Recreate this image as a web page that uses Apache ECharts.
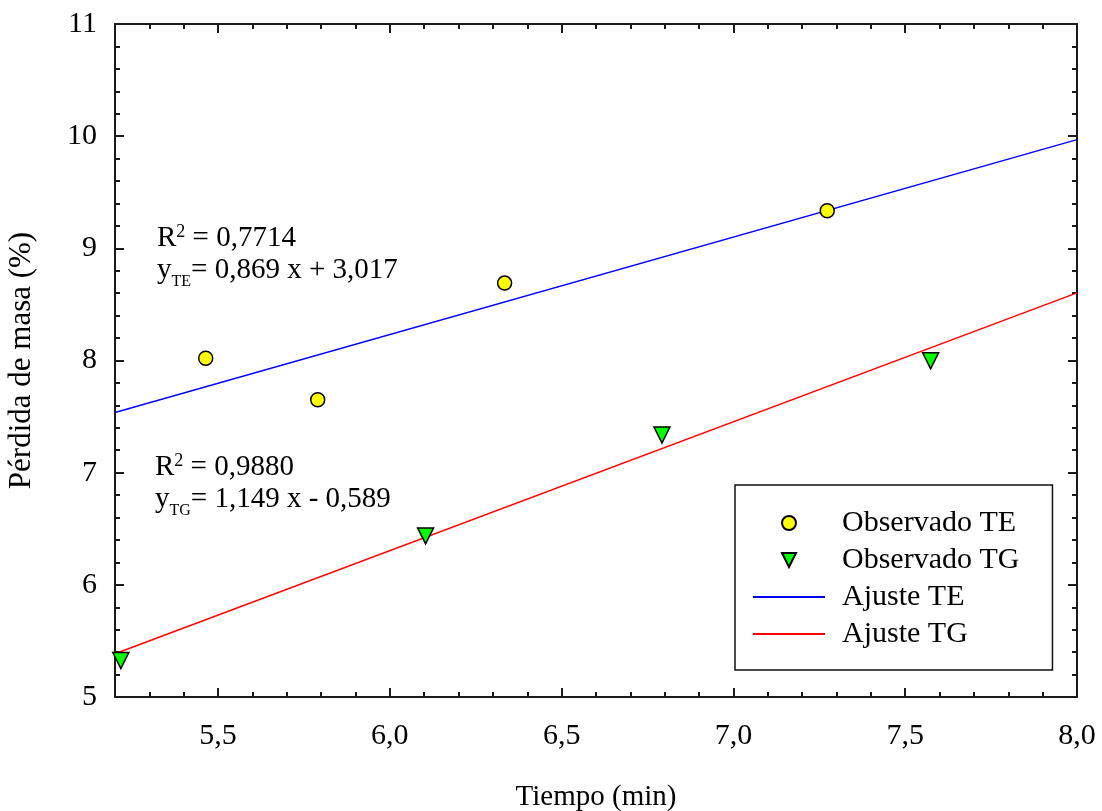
<!DOCTYPE html>
<html>
<head>
<meta charset="utf-8">
<script src="https://cdn.jsdelivr.net/npm/echarts@6/dist/echarts.min.js"></script>
<style>
html,body{margin:0;padding:0;background:#fff;}
#chart{width:1102px;height:811px;}
</style>
</head>
<body>
<div id="chart"></div>
<script>
// ---- data ----
const obsTE = [[5.464, 8.02], [5.79, 7.65], [6.334, 8.69], [7.273, 9.335]];
const obsTG = [[5.217, 5.325], [6.104, 6.436], [6.792, 7.336], [7.574, 7.998]];
const fitTE = [[5.2, 7.536], [8.0, 9.969]];
const fitTG = [[5.2, 5.386], [8.0, 8.603]];
const xLabels = [5.5, 6.0, 6.5, 7.0, 7.5, 8.0];
const xMajorTicks = [5.5, 6.0, 6.5, 7.0, 7.5, 8.0];
const xMinorTicks = [5.3, 5.4, 5.6, 5.7, 5.8, 5.9, 6.1, 6.2, 6.3, 6.4, 6.6, 6.7, 6.8, 6.9, 7.1, 7.2, 7.3, 7.4, 7.6, 7.7, 7.8, 7.9];
const seriesNames = ['Observado TE', 'Observado TG', 'Ajuste TE', 'Ajuste TG'];

const FONT = "'Liberation Serif', 'Times New Roman', serif";
const FRAME = '#1a1a1a';
const chart = echarts.init(document.getElementById('chart'), null, {renderer: 'canvas'});

function xAxisDef(pos, ticks, len, withLabels, withLine) {
  return {
    type: 'value', position: pos, min: 5.2, max: 8.0,
    axisLine: {show: withLine, onZero: false, lineStyle: {color: FRAME, width: 2}},
    axisTick: {show: true, inside: true, length: len, customValues: ticks, lineStyle: {color: FRAME, width: 2}},
    axisLabel: withLabels ? {
      show: true, customValues: xLabels, margin: 24, color: '#000', fontFamily: FONT, fontSize: 30,
      formatter: v => v.toFixed(1).replace('.', ',')
    } : {show: false},
    splitLine: {show: false}
  };
}

const hidden = {color: 'rgba(0,0,0,0)', borderColor: 'rgba(0,0,0,0)', borderWidth: 0};

const option = {
  animation: false,
  backgroundColor: '#fff',
  grid: {left: 115, right: 25, top: 24, bottom: 114, containLabel: false, outerBoundsMode: 'none'},
  xAxis: [
    Object.assign(xAxisDef('bottom', xMajorTicks, 9, true, true), {
      name: 'Tiempo (min)', nameLocation: 'middle', nameGap: 86,
      nameTextStyle: {color: '#000', fontFamily: FONT, fontSize: 29}
    }),
    xAxisDef('bottom', xMinorTicks, 5, false, false),
    xAxisDef('top', xMajorTicks, 9, false, true),
    xAxisDef('top', xMinorTicks, 5, false, false)
  ],
  yAxis: [
    {
      type: 'value', position: 'left', min: 5, max: 11, interval: 1,
      name: 'Pérdida de masa (%)', nameLocation: 'middle', nameGap: 78,
      nameTextStyle: {color: '#000', fontFamily: FONT, fontSize: 31},
      axisLine: {show: true, onZero: false, lineStyle: {color: FRAME, width: 2}},
      axisTick: {show: true, inside: true, length: 9, lineStyle: {color: FRAME, width: 2}},
      minorTick: {show: true, splitNumber: 5, length: 5, lineStyle: {color: FRAME, width: 2}},
      axisLabel: {margin: 18, color: '#000', fontFamily: FONT, fontSize: 30},
      splitLine: {show: false}, minorSplitLine: {show: false}
    },
    {
      type: 'value', position: 'right', min: 5, max: 11, interval: 1,
      axisLine: {show: true, onZero: false, lineStyle: {color: FRAME, width: 2}},
      axisTick: {show: true, inside: true, length: 9, lineStyle: {color: FRAME, width: 2}},
      minorTick: {show: true, splitNumber: 5, length: 5, lineStyle: {color: FRAME, width: 2}},
      axisLabel: {show: false},
      splitLine: {show: false}, minorSplitLine: {show: false}
    }
  ],
  legend: {
    data: [
      {name: seriesNames[0]},
      {name: seriesNames[1]},
      {name: seriesNames[2], itemStyle: hidden},
      {name: seriesNames[3], itemStyle: hidden}
    ],
    orient: 'vertical', left: 735, top: 485,
    padding: [23, 33, 21, 17],
    itemWidth: 72, itemHeight: 14, itemGap: 7,
    borderColor: '#111', borderWidth: 1.5, backgroundColor: '#fff',
    textStyle: {color: '#000', fontFamily: FONT, fontSize: 30, lineHeight: 30, padding: [0, 0, 0, 12]}
  },
  graphic: [
    {type: 'text', z: 100, style: {x: 157, y: 238, verticalAlign: 'middle',
      text: '{a|R}{p|2}{a| = 0,7714}',
      rich: {a: {fontFamily: FONT, fontSize: 29, lineHeight: 30, fill: '#000'},
             p: {fontFamily: FONT, fontSize: 18, verticalAlign: 'top', fill: '#000'}}}},
    {type: 'text', z: 100, style: {x: 157, y: 270, verticalAlign: 'middle',
      text: '{a|y}{s|TE}{a|= 0,869 x + 3,017}',
      rich: {a: {fontFamily: FONT, fontSize: 29, lineHeight: 30, fill: '#000'},
             s: {fontFamily: FONT, fontSize: 16, padding: [24, 0, 0, 0], fill: '#000'}}}},
    {type: 'text', z: 100, style: {x: 155, y: 467, verticalAlign: 'middle',
      text: '{a|R}{p|2}{a| = 0,9880}',
      rich: {a: {fontFamily: FONT, fontSize: 29, lineHeight: 30, fill: '#000'},
             p: {fontFamily: FONT, fontSize: 18, verticalAlign: 'top', fill: '#000'}}}},
    {type: 'text', z: 100, style: {x: 155, y: 499, verticalAlign: 'middle',
      text: '{a|y}{s|TG}{a|= 1,149 x - 0,589}',
      rich: {a: {fontFamily: FONT, fontSize: 29, lineHeight: 30, fill: '#000'},
             s: {fontFamily: FONT, fontSize: 16, padding: [24, 0, 0, 0], fill: '#000'}}}}
  ],
  series: [
    {
      name: seriesNames[0], type: 'scatter', data: obsTE, symbol: 'circle', symbolSize: 14,
      itemStyle: {color: '#ffff00', borderColor: '#000', borderWidth: 1.5, opacity: 1}, z: 5
    },
    {
      name: seriesNames[1], type: 'scatter', data: obsTG, symbol: 'path://M0,0L10,0L5,10Z', symbolSize: [16, 16],
      itemStyle: {color: '#00ff00', borderColor: '#000', borderWidth: 1.5, opacity: 1}, z: 5
    },
    {
      name: seriesNames[2], type: 'line', data: fitTE, symbol: 'none', showSymbol: false,
      lineStyle: {color: '#0000ff', width: 1.5}, itemStyle: {color: '#0000ff'}, z: 3
    },
    {
      name: seriesNames[3], type: 'line', data: fitTG, symbol: 'none', showSymbol: false,
      lineStyle: {color: '#ff0000', width: 1.5}, itemStyle: {color: '#ff0000'}, z: 3
    }
  ]
};
chart.setOption(option);
</script>
</body>
</html>
